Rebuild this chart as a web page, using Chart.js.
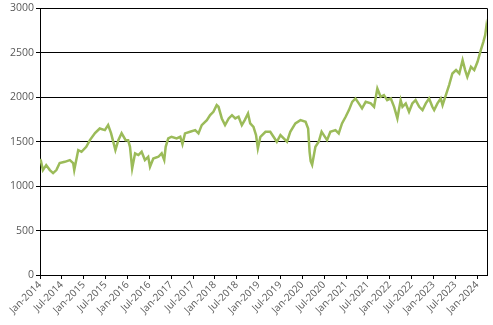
<!DOCTYPE html>
<html>
<head>
<meta charset="utf-8">
<script src="https://cdn.jsdelivr.net/npm/chart.js@4.4.1/dist/chart.umd.min.js"></script>
<style>
  html, body { margin: 0; padding: 0; background: #fff; }
  #wrap { width: 493px; height: 325px; }
</style>
</head>
<body>
<div id="wrap"><canvas id="myChart"></canvas></div>
<script>
// months since Jan-2014
const months = [0.0, 0.2, 0.8, 1.7, 2.7, 3.6, 4.5, 5.4, 6.8, 8.2, 9.1, 9.4, 10.5, 11.4, 12.7, 13.7, 15.1, 16.4, 17.8, 18.7,
  19.5, 20.1, 20.7, 21.5, 22.4, 23.5, 24.2, 24.7, 25.3, 26.1, 27.0, 27.9, 28.8, 29.7, 30.2, 31.1, 32.5, 33.4, 34.1, 34.5,
  35.2, 36.1, 37.5, 38.5, 39.1, 39.8, 41.2, 42.6, 43.5, 44.4, 45.8, 46.7, 47.6, 48.5, 49.0, 49.9, 50.8, 51.8, 52.7, 53.6,
  54.5, 55.4, 56.2, 57.1, 57.7, 58.6, 59.3, 59.8, 60.5, 61.9, 63.2, 64.1, 65.0, 66.0, 66.9, 67.8, 68.7, 70.1, 71.5, 72.9,
  73.6, 74.0, 74.3, 74.7, 75.6, 76.5, 77.3, 77.9, 78.8, 79.7, 81.1, 82.0, 82.9, 83.9, 84.8, 85.7, 86.6, 87.5, 88.4, 89.4,
  90.8, 91.7, 92.6, 93.5, 94.4, 95.3, 96.3, 97.2, 98.1, 99.0, 99.5, 100.4, 101.3, 102.2, 103.1, 104.1, 105.0, 105.9, 106.8, 107.7,
  108.2, 109.1, 110.0, 110.5, 111.4, 112.3, 113.2, 114.2, 115.1, 116.0, 116.7, 117.3, 118.3, 119.2, 120.1, 121.0, 121.7, 122.2, 122.5, 122.7];
const values = [1300, 1293, 1180, 1236, 1180, 1146, 1180, 1259, 1273, 1293, 1259, 1180, 1405, 1386, 1442, 1517, 1596, 1648, 1630, 1686,
  1596, 1500, 1405, 1517, 1596, 1517, 1517, 1442, 1199, 1368, 1349, 1386, 1293, 1330, 1217, 1311, 1330, 1368, 1293, 1442,
  1536, 1555, 1536, 1555, 1472, 1593, 1611, 1630, 1593, 1686, 1742, 1798, 1836, 1911, 1892, 1761, 1686, 1761, 1798, 1761,
  1780, 1686, 1742, 1817, 1705, 1667, 1574, 1424, 1555, 1611, 1611, 1555, 1499, 1574, 1536, 1499, 1611, 1705, 1742, 1724,
  1648, 1386, 1280, 1240, 1442, 1499, 1611, 1574, 1517, 1611, 1630, 1593, 1705, 1780, 1855, 1948, 1986, 1930, 1874, 1948,
  1930, 1892, 2098, 2005, 2023, 1967, 1986, 1892, 1761, 1967, 1892, 1930, 1836, 1930, 1967, 1892, 1855, 1930, 1986, 1892,
  1855, 1930, 1986, 1911, 2023, 2136, 2267, 2305, 2267, 2417, 2305, 2229, 2342, 2305, 2398, 2530, 2623, 2698, 2790, 2740];
const tickLabels = ['Jan-2014', 'Jul-2014', 'Jan-2015', 'Jul-2015', 'Jan-2016', 'Jul-2016', 'Jan-2017', 'Jul-2017',
  'Jan-2018', 'Jul-2018', 'Jan-2019', 'Jul-2019', 'Jan-2020', 'Jul-2020', 'Jan-2021', 'Jul-2021', 'Jan-2022',
  'Jul-2022', 'Jan-2023', 'Jul-2023', 'Jan-2024'];

// right edge of the plot area
const rightBorder = {
  id: 'rightBorder',
  afterDraw(chart) {
    const { ctx, chartArea } = chart;
    ctx.save();
    ctx.strokeStyle = '#000';
    ctx.lineWidth = 1;
    ctx.beginPath();
    ctx.moveTo(Math.round(chartArea.right) + 0.5, chartArea.top);
    ctx.lineTo(Math.round(chartArea.right) + 0.5, chartArea.bottom);
    ctx.stroke();
    ctx.restore();
  }
};

const config = {
  type: 'line',
  data: {
    datasets: [{
      data: months.map((m, i) => ({ x: m, y: values[i] })),
      borderColor: '#9BBB59',
      borderWidth: 2.5,
      pointRadius: 0,
      fill: false,
      tension: 0
    }]
  },
  options: {
    responsive: true,
    maintainAspectRatio: false,
    animation: false,
    layout: { padding: { top: 3, right: 6, left: 0, bottom: 0 } },
    plugins: { legend: { display: false }, tooltip: { enabled: false } },
    scales: {
      x: {
        type: 'linear',
        min: 0,
        max: 122.7,
        afterFit(scale) { scale.height = 50; },
        grid: { drawOnChartArea: false, color: '#000', tickLength: 4 },
        border: { color: '#000' },
        ticks: {
          stepSize: 6,
          includeBounds: false,
          autoSkip: false,
          minRotation: 45,
          maxRotation: 45,
          padding: 0,
          color: '#595959',
          font: { family: 'Open Sans', size: 10 },
          callback: (v) => tickLabels[v / 6]
        }
      },
      y: {
        min: 0,
        max: 3000,
        afterFit(scale) { scale.width = 40; },
        grid: { color: '#000', tickLength: 4 },
        border: { color: '#000' },
        ticks: {
          stepSize: 500,
          padding: 2,
          color: '#595959',
          font: { family: 'Open Sans', size: 10.5 },
          callback: (v) => String(v)
        }
      }
    }
  },
  plugins: [rightBorder]
};

var myChart = new Chart(document.getElementById('myChart'), config);
</script>
</body>
</html>
